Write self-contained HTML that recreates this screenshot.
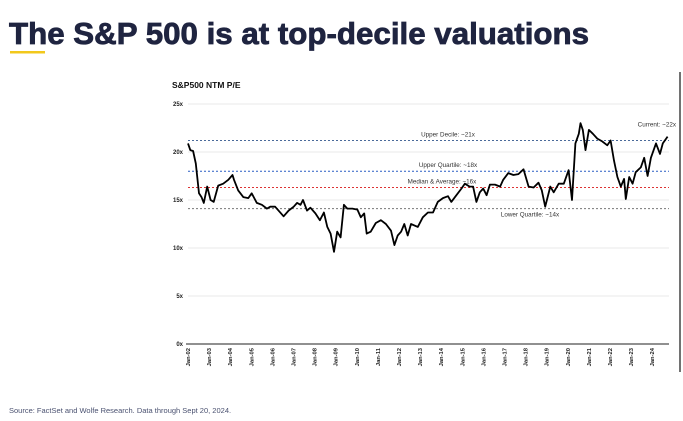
<!DOCTYPE html>
<html><head><meta charset="utf-8"><style>
body{margin:0;background:#fff;}
svg{display:block;font-family:"Liberation Sans",sans-serif;}
</style></head><body>
<svg width="683" height="421" viewBox="0 0 683 421">
<text x="9" y="44" font-size="31" font-weight="bold" fill="#1f2440" stroke="#1f2440" stroke-width="0.8" textLength="580" lengthAdjust="spacingAndGlyphs">The S&amp;P 500 is at top-decile valuations</text>
<rect x="10" y="51" width="35" height="2.5" fill="#f2c81c"/>
<line x1="680" y1="72" x2="680" y2="372" stroke="#444" stroke-width="1.5"/>
<text x="172" y="88" font-size="8.5" font-weight="bold" fill="#111">S&amp;P500 NTM P/E</text>
<g id="grid"></g>
<g id="refs"></g>
<g id="series"></g>
<g id="xticks"></g>
<text x="9" y="413" font-size="7.5" fill="#4a5170">Source: FactSet and Wolfe Research. Data through Sept 20, 2024.</text>
</svg>
<script>
const yTicks=[0,5,10,15,20,25];
const yTickLabels=["0x","5x","10x","15x","20x","25x"];
const xTickYears=[2002,2003,2004,2005,2006,2007,2008,2009,2010,2011,2012,2013,2014,2015,2016,2017,2018,2019,2020,2021,2022,2023,2024];
const xTickLabels=["Jan-02","Jan-03","Jan-04","Jan-05","Jan-06","Jan-07","Jan-08","Jan-09","Jan-10","Jan-11","Jan-12","Jan-13","Jan-14","Jan-15","Jan-16","Jan-17","Jan-18","Jan-19","Jan-20","Jan-21","Jan-22","Jan-23","Jan-24"];
const refValues=[21.2,18.0,16.3,14.1];
const refLabels=["Upper Decile: ~21x","Upper Quartile: ~18x","Median & Average: ~16x","Lower Quartile: ~14x"];
const dates=[2002.00,2002.11,2002.24,2002.37,2002.52,2002.64,2002.75,2002.91,2003.07,2003.22,2003.43,2003.67,2003.91,2004.11,2004.18,2004.38,2004.62,2004.86,2005.02,2005.26,2005.50,2005.74,2005.90,2006.13,2006.53,2006.77,2007.01,2007.17,2007.33,2007.45,2007.64,2007.80,2008.04,2008.25,2008.44,2008.60,2008.76,2008.92,2009.07,2009.23,2009.39,2009.55,2009.79,2010.03,2010.19,2010.35,2010.47,2010.66,2010.90,2011.14,2011.38,2011.62,2011.78,2011.94,2012.10,2012.25,2012.41,2012.57,2012.89,2013.13,2013.37,2013.61,2013.84,2014.08,2014.32,2014.48,2014.72,2014.96,2015.12,2015.35,2015.51,2015.67,2015.83,2015.99,2016.15,2016.31,2016.55,2016.79,2016.94,2017.18,2017.42,2017.66,2017.90,2018.14,2018.38,2018.61,2018.77,2018.93,2019.17,2019.33,2019.57,2019.81,2020.04,2020.20,2020.36,2020.52,2020.60,2020.71,2020.84,2021.00,2021.19,2021.40,2021.63,2021.87,2022.03,2022.19,2022.35,2022.51,2022.67,2022.75,2022.91,2023.07,2023.22,2023.46,2023.62,2023.78,2023.94,2024.18,2024.37,2024.50,2024.73];
const peValues=[20.9,20.2,20.1,18.8,15.7,15.3,14.7,16.4,15.0,14.8,16.5,16.7,17.1,17.6,17.1,16.0,15.3,15.2,15.7,14.7,14.5,14.1,14.3,14.3,13.3,13.9,14.3,14.7,14.5,15.0,13.9,14.2,13.6,12.9,13.7,12.2,11.5,9.6,11.7,11.1,14.5,14.1,14.1,14.0,13.2,13.6,11.5,11.7,12.6,12.9,12.5,11.8,10.3,11.3,11.7,12.5,11.3,12.5,12.2,13.2,13.7,13.7,14.8,15.2,15.4,14.8,15.5,16.2,16.7,16.4,16.4,14.8,15.8,16.2,15.5,16.6,16.6,16.4,17.1,17.8,17.6,17.7,18.2,16.4,16.3,16.8,16.0,14.3,16.4,15.8,16.7,16.7,18.1,15.0,20.9,21.9,23.0,22.3,20.2,22.3,21.9,21.4,21.1,20.7,21.2,19.1,17.4,16.4,17.2,15.1,17.4,16.7,17.9,18.4,19.4,17.5,19.4,20.9,19.8,20.9,21.6];
const NS="http://www.w3.org/2000/svg";
const X0=188,X1=669,Y0=344;
function xs(t){return 188+(t-2002)*21.1;}
function ys(v){return Y0-v*9.6;}
function mk(tag,attrs,parent){const e=document.createElementNS(NS,tag);for(const k in attrs)e.setAttribute(k,attrs[k]);parent.appendChild(e);return e;}
const grid=document.getElementById('grid');
yTicks.forEach((v,i)=>{
  if(v>0){const l=mk('line',{x1:X0,x2:X1,y1:ys(v),y2:ys(v),stroke:'#e2e2e2','stroke-width':0.8},grid);
  
  }
  const t=mk('text',{x:183,y:ys(v)+2,'font-size':6,'font-weight':'bold','text-anchor':'end',fill:'#222'},grid);
  t.textContent=yTickLabels[i];
  
  
});
const ax=mk('line',{x1:X0-2,x2:X1,y1:Y0,y2:Y0,stroke:'#222','stroke-width':1},grid);


const refs=document.getElementById('refs');
const refColors=['#4a6a9a','#2a5fc4','#d33','#777'];
const refLblX=[448,448,442,530];
const refLblDy=[-4,-4,-4,8];
refValues.forEach((v,i)=>{
  const l=mk('line',{x1:X0,x2:X1,y1:ys(v),y2:ys(v),stroke:refColors[i],'stroke-width':1,'stroke-dasharray':'2,2'},refs);
  
  
  const t=mk('text',{x:refLblX[i],y:ys(v)+refLblDy[i],'font-size':6.3,'text-anchor':'middle',fill:'#333'},refs);
  t.textContent=refLabels[i];
  
  
});
const cur=mk('text',{x:676,y:ys(peValues[peValues.length-1])-10,'font-size':6.3,'text-anchor':'end',fill:'#333'},refs);
cur.textContent="Current: ~22x";


const ser=document.getElementById('series');
const d=dates.map((t,i)=>(i?'L':'M')+xs(t).toFixed(1)+','+ys(peValues[i]).toFixed(1)).join(' ');
const p=mk('path',{d:d,fill:'none',stroke:'#000','stroke-width':1.8,'stroke-linejoin':'round'},ser);


const xt=document.getElementById('xticks');
xTickYears.forEach((y,i)=>{
  const x=xs(y)+2;
  const t=mk('text',{x:x,y:348,'font-size':5.8,'font-weight':'bold','text-anchor':'end',fill:'#222',transform:'rotate(-90 '+x+' 348)'},xt);
  t.textContent=xTickLabels[i];
  
  
});
</script>
</body></html>
